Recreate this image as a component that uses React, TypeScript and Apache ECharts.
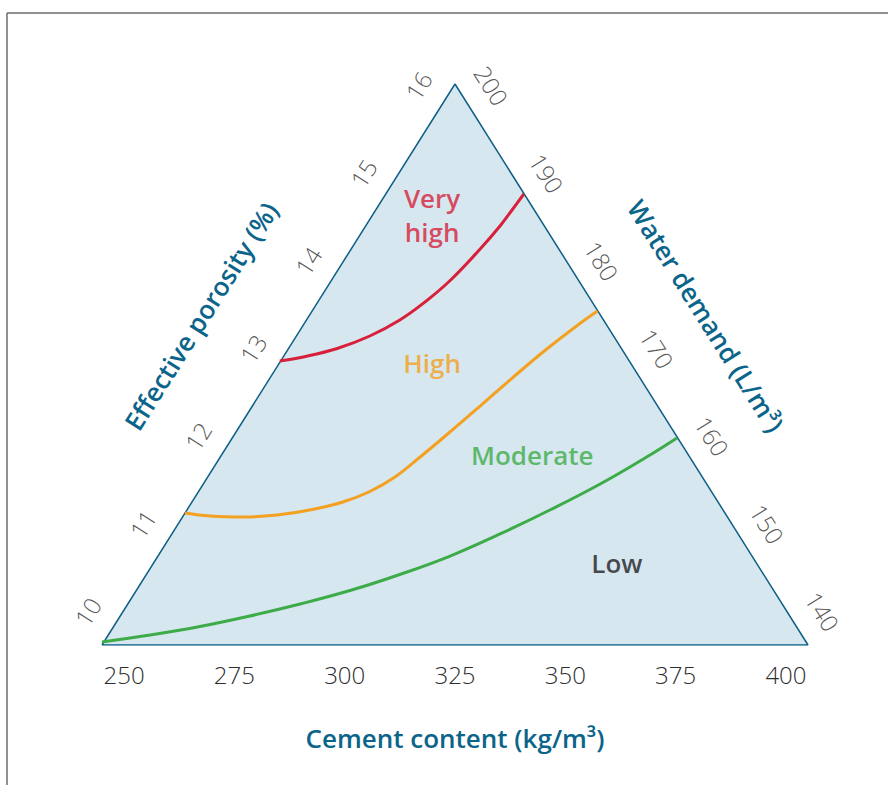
import React, { useEffect, useRef } from "react";
import * as echarts from "echarts";

// Tick values
const cementTicks = [250, 275, 300, 325, 350, 375, 400];
const porosityTicks = [10, 11, 12, 13, 14, 15, 16];
const waterTicks = [200, 190, 180, 170, 160, 150, 140];

// Curves: [cement content, height fraction within the triangle (0 = base, 1 = apex)]
const veryHighCurve: [number, number][] = [
  [285.3, 0.5062], [290.6, 0.5134], [298.3, 0.5285], [305.7, 0.5508], [312.5, 0.5793],
  [318.2, 0.6114], [323.9, 0.6497], [330.7, 0.7059], [335.2, 0.7469], [338.1, 0.7772],
  [340.6, 0.8039],
];
const highCurve: [number, number][] = [
  [263.8, 0.2353], [269.5, 0.2299], [277.0, 0.2282], [284.7, 0.2317], [292.1, 0.2406],
  [299.6, 0.2549], [305.7, 0.2736], [311.4, 0.2995], [317.1, 0.3351], [323.2, 0.3752],
  [330.7, 0.426], [338.1, 0.4768], [345.8, 0.5276], [353.3, 0.5731], [357.3, 0.5955],
];
const moderateCurve: [number, number][] = [
  [245.0, 0.0053], [255.9, 0.0178], [267.2, 0.033], [278.5, 0.0517], [289.9, 0.0731],
  [301.2, 0.0971], [312.5, 0.1257], [323.9, 0.1586], [335.2, 0.1979], [346.5, 0.2406],
  [357.9, 0.287], [369.2, 0.3387], [375.3, 0.369],
];

// Region labels
const regionNames = ["Very", "high", "High", "Moderate", "Low"];
const regionPos: [number, number][] = [
  [319.8, 0.7968], [319.8, 0.7362], [319.8, 0.503], [342.5, 0.338], [361.7, 0.146],
];
const regionColors = ["#d8203a", "#d8203a", "#f4a021", "#3dac48", "#1e1e1e"];

// Triangle corners in axis units
const TRI_X0 = 245;
const TRI_X1 = 405;
const TRI_APEX = 325;
const AX_MIN = 235;
const AX_MAX = 415;
const POR_MIN = 9.8;
const POR_MAX = 16.2;
const WAT_TOP = 202;
const WAT_BOT = 138;

const PX_PER_UNIT = 4.4125;
const GRID_LEFT = 102 - (TRI_X0 - AX_MIN) * PX_PER_UNIT;
const GRID_W = (AX_MAX - AX_MIN) * PX_PER_UNIT;
const GRID_TOP = 84;
const GRID_H = 561;

export default function App() {
  const ref = useRef<HTMLDivElement>(null);
  useEffect(() => {
    if (!ref.current) return;
    const chart = echarts.init(ref.current, null, { renderer: "svg" });
    const kx = PX_PER_UNIT;
    const ky = GRID_H;
    const edgeDx = (TRI_APEX - TRI_X0) * kx;
    const edgeLen = Math.sqrt(edgeDx * edgeDx + GRID_H * GRID_H);
    const nx = GRID_H / edgeLen;
    const ny = edgeDx / edgeLen;
    const angle = (Math.atan2(GRID_H, edgeDx) * 180) / Math.PI;
    const dist = 30;

    const leftLabels = porosityTicks.map((p) => {
      const f = (p - POR_MIN) / (POR_MAX - POR_MIN);
      return {
        value: [TRI_X0 + f * (TRI_APEX - TRI_X0) - (nx * dist) / kx, f + (ny * dist) / ky],
        name: String(p),
      };
    });
    const rightLabels = waterTicks.map((w) => {
      const g = (WAT_TOP - w) / (WAT_TOP - WAT_BOT);
      return {
        value: [TRI_APEX + g * (TRI_X1 - TRI_APEX) + (nx * dist) / kx, 1 - g + (ny * dist) / ky],
        name: String(w),
      };
    });

    const font = "'Open Sans', 'Noto Sans', sans-serif";
    const tickLabel = {
      show: true,
      position: "inside",
      formatter: (p: any) => p.name,
      fontFamily: font,
      fontSize: 24,
      fontWeight: 300,
      color: "#2e2e2e",
    };

    const curve = (data: [number, number][], color: string) => ({
      type: "line",
      data,
      smooth: 0.4,
      symbol: "none",
      lineStyle: { color, width: 3 },
      z: 3,
      silent: true,
    });

    chart.setOption({
      animation: false,
      grid: { left: GRID_LEFT, top: GRID_TOP, width: GRID_W, height: GRID_H },
      xAxis: {
        type: "value",
        min: AX_MIN,
        max: AX_MAX,
        axisLine: { show: false },
        axisTick: { show: false },
        splitLine: { show: false },
        axisLabel: {
          customValues: cementTicks,
          margin: 17,
          fontFamily: font,
          fontSize: 24,
          fontWeight: 300,
          color: "#2e2e2e",
        },
        name: "Cement content (kg/m³)",
        nameLocation: "middle",
        nameGap: 80,
        nameTextStyle: { fontFamily: font, fontSize: 26, fontWeight: 600, color: "#0b6489" },
      },
      yAxis: {
        type: "value",
        min: 0,
        max: 1,
        show: false,
      },
      graphic: [
        { type: "line", shape: { x1: 7, y1: 13, x2: 888, y2: 13 }, style: { stroke: "#6d6d6d", lineWidth: 1.5 } },
        { type: "line", shape: { x1: 7, y1: 13, x2: 7, y2: 785 }, style: { stroke: "#6d6d6d", lineWidth: 1.5 } },
        {
          type: "text",
          x: 201,
          y: 316,
          rotation: (angle * Math.PI) / 180,
          style: {
            text: "Effective porosity (%)",
            fontFamily: font,
            fontSize: 26,
            fontWeight: 600,
            fill: "#0b6489",
            align: "center",
            verticalAlign: "middle",
          },
        },
        {
          type: "text",
          x: 706,
          y: 316,
          rotation: (-angle * Math.PI) / 180,
          style: {
            text: "Water demand (L/m³)",
            fontFamily: font,
            fontSize: 26,
            fontWeight: 600,
            fill: "#0b6489",
            align: "center",
            verticalAlign: "middle",
          },
        },
      ],
      series: [
        {
          type: "line",
          data: [[TRI_X0, 0], [TRI_APEX, 1], [TRI_X1, 0], [TRI_X0, 0]],
          symbol: "none",
          lineStyle: { color: "#0d5f85", width: 1.5 },
          areaStyle: { color: "#d6e7f0", opacity: 1 },
          z: 2,
          silent: true,
        },
        curve(veryHighCurve, "#d8203a"),
        curve(highCurve, "#f4a021"),
        curve(moderateCurve, "#3dac48"),
        {
          type: "scatter",
          data: leftLabels,
          symbolSize: 1,
          itemStyle: { color: "transparent" },
          label: { ...tickLabel, rotate: angle },
          silent: true,
          z: 4,
        },
        {
          type: "scatter",
          data: rightLabels,
          symbolSize: 1,
          itemStyle: { color: "transparent" },
          label: { ...tickLabel, rotate: -angle },
          silent: true,
          z: 4,
        },
        {
          type: "scatter",
          data: regionNames.map((n, i) => ({
            value: regionPos[i],
            name: n,
            label: { color: regionColors[i] },
          })),
          symbolSize: 1,
          itemStyle: { color: "transparent" },
          label: {
            show: true,
            position: "inside",
            formatter: (p: any) => p.name,
            fontFamily: font,
            fontSize: 26,
            fontWeight: 600,
          },
          silent: true,
          z: 5,
        },
      ],
    });
    return () => chart.dispose();
  }, []);
  return (
    <div
      ref={ref}
      style={{ position: "absolute", left: 0, top: 0, width: 888, height: 785, background: "#fff" }}
    />
  );
}
